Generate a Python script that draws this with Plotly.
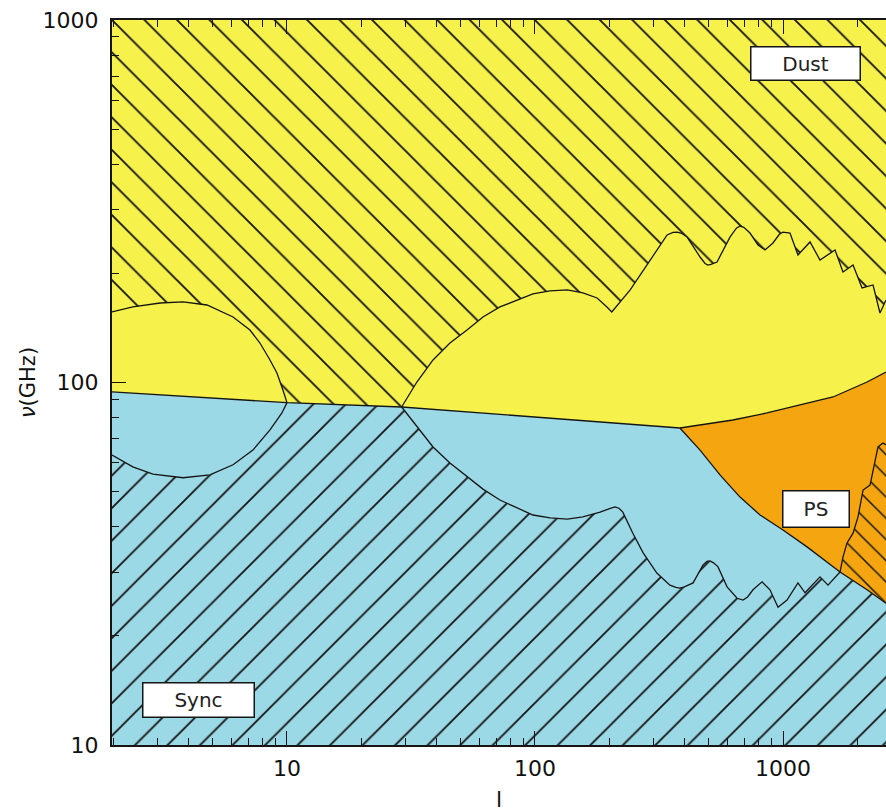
import math
import plotly.graph_objects as go

# ---------------- data (multipole ell, frequency nu in GHz) ----------------
ELL_RANGE = [1.97, 2602]
NU_RANGE = [10, 1000]

# dividing line between dust (above) and synchrotron (below)
div_ell = [1.97, 10, 29, 384]
div_nu = [94.2, 88.0, 85.6, 74.9]

# boundary dust / point sources
yo_ell = [384, 628, 862, 1171, 1591, 2182, 2602]
yo_nu = [74.9, 78.8, 82.4, 86.7, 91.2, 100.3, 106.9]

# boundary point sources / synchrotron
ps_ell = [384, 463, 557, 671, 808, 1000, 1250, 1698, 2182, 2602]
ps_nu = [74.9, 65.1, 55.6, 48.3, 43.1, 39.2, 35.2, 30.0, 26.8, 24.6]

# dust curve, low ell
dustA_ell = [1.97, 2.39, 3.08, 3.81, 4.76, 6.06, 7.09, 7.78, 8.54, 9.11, 9.63, 10]
dustA_nu = [156.5, 161.6, 165.7, 166.8, 163.6, 151.6, 139.6, 128.5, 115.4, 106.2, 95.3, 88.0]

# dust curve, high ell
dustB_ell = [29, 33.4, 38.8, 45.4, 53.2, 61.7, 72.2, 84.6, 98.1, 115, 135, 156, 178, 195,
             204, 242, 291, 341, 360, 374, 390, 410, 463, 485, 498, 512, 542, 612, 650,
             671, 695, 736, 793, 846, 911, 965, 1000, 1030, 1067, 1149, 1285, 1410, 1621,
             1745, 1916, 2083, 2307, 2461, 2602]
dustB_nu = [85.6, 100.3, 115.4, 128.5, 139.6, 151.6, 161.6, 168.9, 175.5, 178.9, 180.0, 176.6,
            171.1, 161.6, 156.5, 180.0, 217.7, 255.3, 259.5, 260.0, 258.0, 252.1, 221.9,
            213.0, 210.9, 211.8, 215.0, 252.1, 267.0, 270.0, 268.0, 258.4, 239.6, 232.1,
            242.6, 256.0, 260.0, 259.5, 258.4, 224.7, 244.2, 217.7, 232.1, 201.7, 210.9,
            182.3, 185.8, 155.5, 168.9]

# synchrotron curve, low ell
syncC_ell = [1.97, 2.39, 2.88, 3.81, 4.89, 6.06, 7.29, 8.54, 9.54, 10]
syncC_nu = [63.1, 58.5, 55.9, 54.6, 55.6, 59.3, 65.1, 74.0, 82.4, 88.0]

# synchrotron curve, high ell
syncD_ell = [29, 33.4, 38.8, 45.4, 53.2, 61.7, 72.2, 84.6, 98.1, 115, 135, 156, 183, 200,
             210, 218, 226, 248, 273, 310, 350, 370, 384, 400, 434, 476, 494, 508, 525,
             547, 595, 653, 690, 720, 757, 823, 886, 955, 1038, 1149, 1227, 1410, 1519, 1698]
syncD_nu = [85.6, 75.4, 66.4, 60.0, 54.9, 50.8, 47.4, 45.1, 43.1, 42.3, 42.0, 42.6, 43.9,
            44.9, 45.4, 45.0, 43.9, 38.4, 33.9, 29.8, 27.6, 27.2, 27.1, 27.3, 28.0, 31.4,
            32.1, 32.2, 31.8, 31.0, 27.3, 25.4, 25.1, 25.6, 26.8, 28.2, 26.8, 24.0, 25.1,
            28.0, 26.3, 29.1, 27.6, 30.0]

# point-source curve
psw_ell = [1698, 1745, 1812, 1916, 2007, 2102, 2244, 2350, 2416, 2530, 2602]
psw_nu = [30.0, 33.0, 36.1, 38.4, 42.6, 50.5, 52.1, 60.0, 66.4, 68.1, 67.3]

labels = ["Dust", "PS", "Sync"]

YELLOW = "#f6f24b"
BLUE = "#9cd9e6"
ORANGE = "#f5a50f"
INK = "#151515"

k = ps_ell.index(1698)

fig = go.Figure()


def region(xs, ys, color, shape=None, size=23, solidity=0.08):
    kw = dict(x=xs, y=ys, mode="lines", fill="toself", fillcolor=color,
              line=dict(width=0, color=color), hoverinfo="skip", showlegend=False)
    if shape:
        kw["fillpattern"] = dict(shape=shape, size=size, solidity=solidity,
                                 fgcolor=INK, bgcolor=color, fgopacity=1,
                                 fillmode="replace")
    fig.add_trace(go.Scatter(**kw))


# yellow (dust) plain
region(div_ell + yo_ell[1:] + [ELL_RANGE[1], ELL_RANGE[0]],
       div_nu + yo_nu[1:] + [NU_RANGE[1], NU_RANGE[1]], YELLOW)
# yellow hatched
region(dustA_ell + dustB_ell + [ELL_RANGE[1], ELL_RANGE[0]],
       dustA_nu + dustB_nu + [NU_RANGE[1], NU_RANGE[1]], YELLOW, "\\", 23)
# blue (sync) plain
region(div_ell + ps_ell[1:] + [ELL_RANGE[1], ELL_RANGE[0]],
       div_nu + ps_nu[1:] + [NU_RANGE[0], NU_RANGE[0]], BLUE)
# blue hatched
region(syncC_ell + syncD_ell + ps_ell[k + 1:] + [ELL_RANGE[1], ELL_RANGE[0]],
       syncC_nu + syncD_nu + ps_nu[k + 1:] + [NU_RANGE[0], NU_RANGE[0]], BLUE, "/", 23)
# orange (PS) plain
region(yo_ell + ps_ell[::-1], yo_nu + ps_nu[::-1], ORANGE)
# orange hatched
region(psw_ell + ps_ell[k:][::-1], psw_nu + ps_nu[k:][::-1], ORANGE, "\\", 15, 0.1)

# outlines
for xs, ys in [(div_ell, div_nu), (yo_ell, yo_nu), (ps_ell, ps_nu),
               (dustA_ell, dustA_nu), (dustB_ell, dustB_nu),
               (syncC_ell, syncC_nu), (syncD_ell, syncD_nu), (psw_ell, psw_nu)]:
    fig.add_trace(go.Scatter(x=xs, y=ys, mode="lines",
                             line=dict(color=INK, width=1.3),
                             hoverinfo="skip", showlegend=False))

FONT = "DejaVu Sans"
label_pos = {"Dust": (3.089, 2.879, 106, 30), "PS": (3.135, 1.652, 63, 33),
             "Sync": (0.645, 1.123, 108, 31)}
for name in labels:
    lx, ly, w, h = label_pos[name]
    fig.add_annotation(x=lx, y=ly, xref="x", yref="y", text=name, showarrow=False,
                       font=dict(family=FONT, size=20, color="#222"),
                       bgcolor="white", bordercolor=INK, borderwidth=1.5,
                       borderpad=1, width=w, height=h, align="center", valign="middle")

minor_x = [2, 3, 4, 5, 6, 7, 8, 9, 20, 30, 40, 50, 60, 70, 80, 90,
           200, 300, 400, 500, 600, 700, 800, 900, 2000]
minor_y = [20, 30, 40, 50, 60, 70, 80, 90, 200, 300, 400, 500, 600, 700, 800, 900]
major_ticks = [10, 100, 1000]
major_text = ["10", "100", "1000"]

fig.update_layout(
    width=886, height=812,
    margin=dict(l=112, r=0, t=20, b=67),
    paper_bgcolor="white", plot_bgcolor="white",
    font=dict(family=FONT, size=22, color="#111"),
    xaxis=dict(type="log", range=[math.log10(ELL_RANGE[0]), math.log10(ELL_RANGE[1])],
               tickmode="array", tickvals=major_ticks, ticktext=major_text,
               ticks="inside", ticklen=14, tickwidth=1.2, tickcolor=INK,
               ticklabelstandoff=3, ticklabeloverflow="allow",
               minor=dict(tickmode="array", tickvals=minor_x, ticks="inside",
                          ticklen=7, tickwidth=1, tickcolor=INK, showgrid=False),
               showline=True, linecolor=INK, linewidth=2, mirror="allticks",
               showgrid=False, zeroline=False,
               title=dict(text="l", font=dict(size=22), standoff=14)),
    yaxis=dict(type="log", range=[math.log10(NU_RANGE[0]), math.log10(NU_RANGE[1])],
               tickmode="array", tickvals=major_ticks, ticktext=major_text,
               ticks="inside", ticklen=14, tickwidth=1.2, tickcolor=INK,
               ticklabelstandoff=7, ticklabeloverflow="allow",
               minor=dict(tickmode="array", tickvals=minor_y, ticks="inside",
                          ticklen=7, tickwidth=1, tickcolor=INK, showgrid=False),
               showline=True, linecolor=INK, linewidth=2, mirror=False,
               showgrid=False, zeroline=False,
               title=dict(text="<i>ν</i>(GHz)", font=dict(size=21), standoff=1)),
)

fig.write_html(
    "out.html",
    config={"displayModeBar": False},
    post_script="document.body.style.margin='0';document.body.style.overflow='hidden';",
)
